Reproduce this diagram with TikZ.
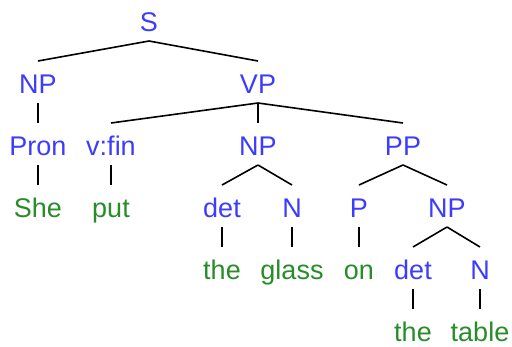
\documentclass[tikz,border=0pt]{standalone}
\usepackage{fontspec}
\setmainfont{Liberation Sans}
\definecolor{catblue}{RGB}{60,60,255}
\definecolor{wordgreen}{RGB}{40,140,40}
\begin{document}
\begin{tikzpicture}[x=1pt,y=-1pt,
  lab/.style={anchor=base,inner sep=0pt,font=\fontsize{27}{32}\selectfont},
  cat/.style={lab,text=catblue},
  word/.style={lab,text=wordgreen},
  edge/.style={line width=1.6pt,black}]
\useasboundingbox (0,0) rectangle (512,346);
% categories
\node[cat] (S) at (149,31) {S};
\node[cat] (NP1) at (38,93) {NP};
\node[cat] (VP) at (258,93) {VP};
\node[cat] (Pron) at (38,155) {Pron};
\node[cat] (vfin) at (111,155) {v:fin};
\node[cat] (NP2) at (258,155) {NP};
\node[cat] (PP) at (403,155) {PP};
\node[word] (she) at (38,217) {She};
\node[word] (put) at (111,217) {put};
\node[cat] (det1) at (222,217) {det};
\node[cat] (N1) at (292,217) {N};
\node[cat] (P) at (359,217) {P};
\node[cat] (NP3) at (447,217) {NP};
\node[word] (the1) at (222,279) {the};
\node[word] (glass) at (292,279) {glass};
\node[word] (on) at (359,279) {on};
\node[cat] (det2) at (413,279) {det};
\node[cat] (N2) at (480,279) {N};
\node[word] (the2) at (413,341) {the};
\node[word] (table) at (480,341) {table};
% edges
\foreach \p/\c in {S/NP1,S/VP,NP1/Pron,VP/vfin,VP/NP2,VP/PP,Pron/she,vfin/put,
  NP2/det1,NP2/N1,PP/P,PP/NP3,det1/the1,N1/glass,P/on,NP3/det2,NP3/N2,det2/the2,N2/table}
  \draw[edge] ([yshift=-10pt]\p.base) -- ([yshift=32pt]\c.base);
\end{tikzpicture}
\end{document}
